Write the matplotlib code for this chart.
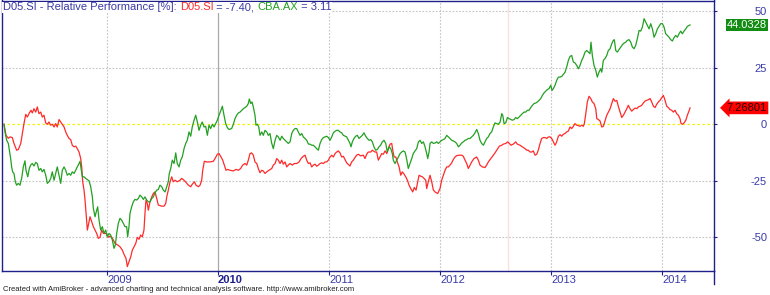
import matplotlib.pyplot as plt
from matplotlib.lines import Line2D
import matplotlib.transforms as mtransforms

plt.rcParams['font.family'] = ['Liberation Sans', 'DejaVu Sans']

# data (decimal years, relative performance in %)
years = [2009, 2010, 2011, 2012, 2013, 2014]
year_labels = [str(y) for y in years]
y_ticks = [-50, -25, 0, 25, 50]
marker_date = 2012.616

d05_t = [
    2008.072, 2008.090, 2008.111, 2008.126, 2008.147, 2008.162, 2008.186, 2008.201, 2008.223, 2008.237,
    2008.252, 2008.268, 2008.282, 2008.297, 2008.315, 2008.327, 2008.342, 2008.358, 2008.372, 2008.387,
    2008.403, 2008.417, 2008.432, 2008.448, 2008.462, 2008.477, 2008.493, 2008.507, 2008.523, 2008.538,
    2008.552, 2008.568, 2008.583, 2008.597, 2008.613, 2008.628, 2008.642, 2008.658, 2008.673, 2008.687,
    2008.703, 2008.718, 2008.732, 2008.748, 2008.763, 2008.772, 2008.781, 2008.793, 2008.802, 2008.811,
    2008.823, 2008.835, 2008.847, 2008.862, 2008.877, 2008.892, 2008.907, 2008.922, 2008.937, 2008.952,
    2008.967, 2008.991, 2009.012, 2009.027, 2009.042, 2009.057, 2009.072, 2009.096, 2009.117, 2009.138,
    2009.156, 2009.171, 2009.183, 2009.198, 2009.214, 2009.228, 2009.243, 2009.259, 2009.273, 2009.288,
    2009.303, 2009.318, 2009.333, 2009.342, 2009.351, 2009.363, 2009.372, 2009.387, 2009.403, 2009.417,
    2009.432, 2009.448, 2009.462, 2009.492, 2009.514, 2009.529, 2009.538, 2009.552, 2009.568, 2009.583,
    2009.597, 2009.613, 2009.633, 2009.658, 2009.673, 2009.694, 2009.718, 2009.733, 2009.754, 2009.768,
    2009.787, 2009.802, 2009.823, 2009.838, 2009.853, 2009.862, 2009.877, 2009.898, 2009.928, 2009.958,
    2009.973, 2009.994, 2010.009, 2010.027, 2010.042, 2010.057, 2010.072, 2010.087, 2010.108, 2010.138,
    2010.162, 2010.183, 2010.204, 2010.222, 2010.243, 2010.259, 2010.273, 2010.288, 2010.303, 2010.318,
    2010.333, 2010.349, 2010.363, 2010.378, 2010.394, 2010.408, 2010.423, 2010.439, 2010.459, 2010.484,
    2010.498, 2010.514, 2010.529, 2010.543, 2010.559, 2010.574, 2010.588, 2010.604, 2010.619, 2010.633,
    2010.649, 2010.669, 2010.687, 2010.709, 2010.730, 2010.748, 2010.768, 2010.784, 2010.799, 2010.814,
    2010.829, 2010.844, 2010.859, 2010.874, 2010.889, 2010.904, 2010.919, 2010.934, 2010.949, 2010.964,
    2010.979, 2010.994, 2011.009, 2011.024, 2011.039, 2011.054, 2011.069, 2011.084, 2011.099, 2011.114,
    2011.129, 2011.144, 2011.159, 2011.189, 2011.204, 2011.219, 2011.234, 2011.249, 2011.264, 2011.285,
    2011.309, 2011.324, 2011.339, 2011.354, 2011.376, 2011.390, 2011.414, 2011.429, 2011.444, 2011.459,
    2011.475, 2011.489, 2011.505, 2011.520, 2011.534, 2011.550, 2011.565, 2011.574, 2011.586, 2011.601,
    2011.615, 2011.631, 2011.646, 2011.660, 2011.676, 2011.691, 2011.706, 2011.721, 2011.736, 2011.754,
    2011.768, 2011.784, 2011.799, 2011.811, 2011.826, 2011.841, 2011.856, 2011.871, 2011.880, 2011.894,
    2011.910, 2011.925, 2011.940, 2011.955, 2011.979, 2012.000, 2012.015, 2012.030, 2012.045, 2012.060,
    2012.075, 2012.090, 2012.105, 2012.120, 2012.135, 2012.150, 2012.171, 2012.195, 2012.210, 2012.225,
    2012.240, 2012.255, 2012.270, 2012.285, 2012.306, 2012.330, 2012.345, 2012.360, 2012.381, 2012.405,
    2012.420, 2012.435, 2012.457, 2012.480, 2012.495, 2012.511, 2012.534, 2012.556, 2012.570, 2012.592,
    2012.610, 2012.624, 2012.640, 2012.660, 2012.682, 2012.696, 2012.721, 2012.741, 2012.766, 2012.781,
    2012.795, 2012.811, 2012.826, 2012.840, 2012.856, 2012.871, 2012.885, 2012.901, 2012.916, 2012.931,
    2012.946, 2012.961, 2012.976, 2012.991, 2013.006, 2013.021, 2013.036, 2013.051, 2013.066, 2013.081,
    2013.096, 2013.111, 2013.126, 2013.141, 2013.156, 2013.171, 2013.186, 2013.201, 2013.216, 2013.231,
    2013.246, 2013.261, 2013.276, 2013.291, 2013.300, 2013.313, 2013.327, 2013.342, 2013.358, 2013.372,
    2013.387, 2013.403, 2013.412, 2013.426, 2013.441, 2013.457, 2013.471, 2013.486, 2013.502, 2013.516,
    2013.532, 2013.547, 2013.561, 2013.577, 2013.592, 2013.606, 2013.622, 2013.637, 2013.652, 2013.667,
    2013.682, 2013.696, 2013.712, 2013.727, 2013.741, 2013.757, 2013.772, 2013.787, 2013.802, 2013.817,
    2013.831, 2013.847, 2013.862, 2013.877, 2013.892, 2013.907, 2013.922, 2013.937, 2013.952, 2013.967,
    2013.982, 2013.997, 2014.012, 2014.027, 2014.042, 2014.057, 2014.072, 2014.087, 2014.102, 2014.117,
    2014.132, 2014.147, 2014.162, 2014.171, 2014.183, 2014.198, 2014.214, 2014.228, 2014.243, 2014.252,
]
d05_v = [
    0.0, -4.9, -6.2, -5.6, -5.9, -8.5, -11.5, -11.2, -8.5, -4.1,
    0.3, 4.4, 3.2, 4.7, 6.2, 5.0, 6.9, 5.4, 7.7, 4.7,
    5.4, 3.2, 4.0, 0.6, 0.0, 1.0, -0.4, 0.0, -1.2, 0.3,
    -1.2, 2.1, 1.0, 0.0, -1.2, -3.4, -4.9, -6.3, -6.8, -9.3,
    -10.0, -9.7, -10.8, -12.3, -15.2, -18.9, -25.5, -29.2, -33.6, -39.5,
    -46.9, -43.9, -41.0, -43.2, -45.4, -46.9, -48.4, -50.6, -50.1, -46.9,
    -48.4, -48.4, -50.1, -49.6, -50.1, -51.3, -52.8, -53.5, -54.3, -55.8,
    -58.0, -59.4, -63.1, -60.9, -58.7, -55.8, -54.3, -52.8, -50.1, -51.0,
    -49.1, -49.9, -46.9, -39.5, -33.6, -35.1, -38.1, -34.4, -32.2, -30.7,
    -30.0, -32.9, -35.8, -36.3, -36.3, -35.1, -32.2, -29.2, -25.5, -23.3,
    -25.5, -24.8, -25.5, -24.8, -24.0, -24.8, -26.2, -27.0, -27.7, -26.6,
    -25.5, -27.0, -27.7, -27.0, -24.8, -20.4, -16.4, -16.7, -16.7, -16.4,
    -15.2, -13.3, -13.0, -14.5, -15.9, -18.1, -20.4, -20.0, -20.4, -20.7,
    -20.0, -20.4, -19.6, -18.1, -17.4, -18.1, -15.9, -13.0, -12.7, -13.7,
    -16.7, -17.4, -19.6, -21.5, -20.4, -20.7, -21.8, -21.1, -20.4, -19.6,
    -18.1, -17.4, -15.2, -15.9, -17.4, -15.9, -17.7, -16.7, -18.9, -18.1,
    -17.4, -18.1, -17.4, -17.4, -16.7, -15.2, -14.2, -13.7, -15.9, -17.4,
    -17.1, -18.9, -18.1, -17.7, -18.6, -18.1, -17.4, -17.1, -17.4, -16.7,
    -16.7, -15.9, -14.5, -13.7, -14.5, -13.0, -12.3, -11.8, -12.7, -14.5,
    -14.2, -15.6, -17.1, -18.5, -16.7, -15.9, -14.7, -13.7, -13.3, -14.0,
    -13.7, -15.2, -13.3, -12.3, -12.3, -11.5, -12.3, -12.3, -15.9, -14.5,
    -13.0, -13.3, -11.8, -13.0, -10.8, -8.8, -8.5, -11.5, -14.5, -14.5,
    -16.7, -18.9, -22.6, -21.1, -22.1, -23.3, -24.8, -27.0, -28.5, -30.0,
    -28.0, -29.2, -25.5, -22.6, -23.0, -23.3, -24.0, -24.8, -28.5, -25.5,
    -22.6, -25.5, -29.2, -30.0, -30.7, -28.5, -24.8, -22.6, -20.4, -18.9,
    -18.9, -18.1, -17.1, -15.6, -14.5, -13.9, -13.7, -13.7, -14.2, -15.9,
    -17.4, -19.6, -18.1, -16.7, -15.2, -14.5, -15.9, -18.1, -18.9, -19.2,
    -18.1, -16.7, -15.2, -13.7, -12.7, -11.5, -9.7, -9.3, -8.8, -8.5,
    -7.8, -8.5, -9.3, -8.8, -7.8, -8.8, -9.3, -10.0, -10.8, -11.5,
    -11.5, -12.3, -12.3, -11.8, -13.7, -13.3, -11.5, -8.5, -6.3, -5.9,
    -5.9, -6.3, -5.6, -5.6, -6.3, -7.8, -9.3, -7.8, -5.3, -4.6,
    -5.3, -4.4, -4.1, -3.4, -3.0, -1.2, -1.9, -0.9, 0.3, -0.4,
    -0.6, -0.9, -0.4, -0.9, 0.3, 4.7, 9.9, 12.4, 11.4, 9.9,
    9.2, 6.9, 2.5, 2.1, 1.5, -1.2, -0.9, 1.5, 4.0, 5.4,
    6.9, 9.2, 11.4, 10.2, 10.6, 8.0, 5.4, 3.0, 4.0, 5.4,
    6.9, 8.4, 6.9, 5.8, 6.5, 7.2, 6.9, 7.7, 8.0, 8.4,
    9.4, 10.3, 10.6, 10.9, 11.4, 9.9, 8.0, 7.4, 8.9, 9.9,
    10.6, 11.8, 12.8, 10.6, 8.0, 7.4, 6.5, 6.2, 5.4, 6.2,
    4.7, 4.0, 2.5, 0.3, 0.0, 0.6, 1.8, 4.0, 5.9, 7.27,
]

cba_t = [
    2008.072, 2008.081, 2008.096, 2008.111, 2008.120, 2008.132, 2008.141, 2008.150, 2008.162, 2008.174,
    2008.186, 2008.201, 2008.216, 2008.231, 2008.246, 2008.261, 2008.270, 2008.286, 2008.300, 2008.312,
    2008.327, 2008.342, 2008.358, 2008.372, 2008.387, 2008.403, 2008.417, 2008.432, 2008.448, 2008.462,
    2008.477, 2008.493, 2008.507, 2008.523, 2008.538, 2008.552, 2008.568, 2008.583, 2008.597, 2008.613,
    2008.628, 2008.642, 2008.658, 2008.673, 2008.687, 2008.703, 2008.718, 2008.732, 2008.748, 2008.757,
    2008.766, 2008.778, 2008.793, 2008.808, 2008.823, 2008.838, 2008.853, 2008.868, 2008.877, 2008.892,
    2008.907, 2008.916, 2008.928, 2008.943, 2008.958, 2008.973, 2008.988, 2009.003, 2009.018, 2009.033,
    2009.048, 2009.063, 2009.075, 2009.087, 2009.102, 2009.117, 2009.132, 2009.147, 2009.162, 2009.177,
    2009.186, 2009.198, 2009.207, 2009.222, 2009.237, 2009.252, 2009.268, 2009.282, 2009.297, 2009.313,
    2009.327, 2009.342, 2009.358, 2009.372, 2009.387, 2009.403, 2009.417, 2009.432, 2009.448, 2009.462,
    2009.477, 2009.493, 2009.507, 2009.523, 2009.538, 2009.552, 2009.561, 2009.574, 2009.588, 2009.604,
    2009.619, 2009.633, 2009.649, 2009.664, 2009.678, 2009.694, 2009.709, 2009.723, 2009.739, 2009.754,
    2009.768, 2009.784, 2009.799, 2009.814, 2009.829, 2009.844, 2009.858, 2009.874, 2009.889, 2009.904,
    2009.919, 2009.934, 2009.949, 2009.964, 2009.979, 2009.994, 2010.009, 2010.024, 2010.039, 2010.054,
    2010.069, 2010.084, 2010.099, 2010.123, 2010.138, 2010.153, 2010.168, 2010.183, 2010.198, 2010.214,
    2010.228, 2010.243, 2010.259, 2010.273, 2010.282, 2010.295, 2010.306, 2010.318, 2010.333, 2010.342,
    2010.354, 2010.367, 2010.378, 2010.394, 2010.408, 2010.423, 2010.439, 2010.453, 2010.468, 2010.484,
    2010.498, 2010.514, 2010.529, 2010.543, 2010.559, 2010.574, 2010.588, 2010.604, 2010.619, 2010.633,
    2010.649, 2010.664, 2010.678, 2010.694, 2010.709, 2010.723, 2010.739, 2010.754, 2010.768, 2010.784,
    2010.799, 2010.814, 2010.829, 2010.844, 2010.859, 2010.874, 2010.889, 2010.904, 2010.919, 2010.934,
    2010.949, 2010.964, 2010.979, 2010.994, 2011.009, 2011.024, 2011.039, 2011.054, 2011.069, 2011.084,
    2011.099, 2011.114, 2011.129, 2011.159, 2011.174, 2011.189, 2011.198, 2011.210, 2011.225, 2011.240,
    2011.255, 2011.270, 2011.285, 2011.300, 2011.315, 2011.330, 2011.345, 2011.360, 2011.376, 2011.390,
    2011.405, 2011.420, 2011.435, 2011.450, 2011.465, 2011.480, 2011.495, 2011.511, 2011.525, 2011.541,
    2011.556, 2011.570, 2011.579, 2011.595, 2011.610, 2011.624, 2011.640, 2011.655, 2011.669, 2011.685,
    2011.700, 2011.714, 2011.730, 2011.745, 2011.759, 2011.775, 2011.790, 2011.805, 2011.820, 2011.835,
    2011.850, 2011.865, 2011.880, 2011.889, 2011.901, 2011.910, 2011.925, 2011.940, 2011.955, 2011.970,
    2011.985, 2012.000, 2012.015, 2012.030, 2012.045, 2012.060, 2012.075, 2012.090, 2012.105, 2012.120,
    2012.135, 2012.150, 2012.165, 2012.180, 2012.195, 2012.210, 2012.225, 2012.240, 2012.255, 2012.270,
    2012.285, 2012.300, 2012.315, 2012.330, 2012.345, 2012.360, 2012.375, 2012.390, 2012.405, 2012.420,
    2012.435, 2012.450, 2012.465, 2012.480, 2012.495, 2012.511, 2012.525, 2012.541, 2012.556, 2012.565,
    2012.577, 2012.592, 2012.607, 2012.622, 2012.637, 2012.652, 2012.667, 2012.682, 2012.696, 2012.712,
    2012.727, 2012.741, 2012.757, 2012.772, 2012.787, 2012.802, 2012.817, 2012.832, 2012.847, 2012.862,
    2012.877, 2012.892, 2012.907, 2012.922, 2012.937, 2012.952, 2012.967, 2012.982, 2012.997, 2013.009,
    2013.021, 2013.036, 2013.051, 2013.066, 2013.081, 2013.096, 2013.111, 2013.126, 2013.141, 2013.156,
    2013.171, 2013.186, 2013.201, 2013.216, 2013.231, 2013.246, 2013.261, 2013.276, 2013.291, 2013.306,
    2013.321, 2013.336, 2013.351, 2013.360, 2013.372, 2013.387, 2013.403, 2013.417, 2013.432, 2013.448,
    2013.457, 2013.471, 2013.486, 2013.502, 2013.516, 2013.532, 2013.547, 2013.561, 2013.570, 2013.583,
    2013.597, 2013.613, 2013.628, 2013.643, 2013.658, 2013.673, 2013.687, 2013.703, 2013.718, 2013.733,
    2013.748, 2013.763, 2013.777, 2013.793, 2013.808, 2013.823, 2013.838, 2013.853, 2013.868, 2013.883,
    2013.898, 2013.913, 2013.928, 2013.943, 2013.958, 2013.973, 2013.988, 2014.003, 2014.018, 2014.033,
    2014.048, 2014.063, 2014.078, 2014.093, 2014.108, 2014.123, 2014.138, 2014.153, 2014.168, 2014.183,
    2014.198, 2014.214, 2014.228, 2014.243, 2014.252,
]
cba_v = [
    0.0, -3.4, -7.1, -8.5, -11.5, -15.2, -18.9, -21.1, -21.8, -25.5,
    -27.0, -26.2, -27.0, -24.0, -18.9, -16.2, -20.4, -23.3, -19.6, -18.1,
    -17.4, -18.5, -16.9, -17.4, -20.4, -19.6, -21.1, -20.0, -22.6, -26.2,
    -25.5, -24.0, -21.1, -24.8, -21.8, -18.9, -22.6, -26.2, -20.4, -18.9,
    -20.4, -22.6, -21.8, -22.6, -21.1, -21.8, -20.4, -18.9, -17.4, -16.4,
    -19.6, -23.3, -23.3, -24.0, -24.5, -25.1, -27.7, -32.2, -37.3, -41.0,
    -38.1, -36.6, -42.5, -46.9, -45.4, -48.4, -46.9, -49.9, -48.4, -49.1,
    -51.3, -55.0, -53.5, -48.4, -43.9, -41.7, -42.5, -43.9, -45.4, -45.4,
    -49.9, -45.4, -39.5, -36.6, -34.4, -33.3, -33.6, -32.9, -31.4, -32.2,
    -33.3, -32.2, -33.6, -34.4, -34.4, -32.9, -32.2, -30.4, -29.2, -28.9,
    -27.0, -27.7, -29.2, -30.0, -27.7, -25.5, -21.8, -19.6, -15.9, -17.4,
    -12.7, -17.4, -18.9, -15.9, -14.5, -10.8, -8.5, -7.1, -3.4, -5.3,
    -1.2, 1.8, 4.0, 1.0, -2.7, -0.4, 1.0, -1.2, -0.9, -4.9,
    -0.4, -1.9, 0.0, -1.2, 0.3, 1.8, 4.0, 5.9, 8.0, 4.0,
    0.3, -1.5, -2.3, -1.9, 0.0, 2.5, 4.0, 5.0, 5.4, 6.2,
    6.9, 7.4, 8.0, 9.2, 11.2, 9.2, 9.9, 7.7, 4.0, -0.4,
    0.0, -1.2, -4.9, -3.4, -4.9, -2.7, -3.4, -4.9, -4.1, -8.5,
    -10.8, -7.1, -4.9, -5.6, -7.1, -5.3, -6.3, -7.1, -7.8, -8.5,
    -7.8, -4.1, -2.7, -1.9, -1.9, -3.4, -4.9, -4.1, -5.6, -6.3,
    -7.1, -8.8, -8.8, -9.3, -9.3, -10.0, -10.8, -11.5, -8.5, -6.8,
    -5.9, -5.6, -5.3, -5.9, -7.1, -5.6, -3.8, -3.1, -2.7, -2.7,
    -3.4, -3.8, -4.9, -5.6, -7.1, -8.5, -10.0, -7.8, -6.3, -5.3,
    -4.9, -6.3, -5.6, -4.9, -3.8, -5.3, -6.3, -7.1, -6.8, -7.8,
    -10.0, -11.5, -11.2, -10.0, -9.3, -7.8, -7.1, -8.5, -12.3, -10.0,
    -10.8, -13.0, -15.9, -17.4, -15.9, -14.5, -13.0, -12.3, -11.8, -12.3,
    -15.6, -19.6, -17.4, -15.2, -13.0, -11.8, -10.8, -7.8, -7.1, -8.5,
    -7.8, -10.0, -13.0, -15.2, -12.3, -8.5, -7.8, -8.5, -8.3, -7.8,
    -8.5, -7.8, -7.1, -6.8, -6.3, -4.9, -5.6, -6.3, -7.1, -7.4,
    -7.8, -8.5, -10.0, -9.3, -8.3, -7.8, -7.1, -6.8, -6.3, -6.3,
    -5.6, -4.9, -3.8, -2.3, -4.1, -7.1, -8.5, -9.3, -7.8, -6.3,
    -5.6, -4.1, -3.4, -1.2, 0.6, 0.3, 0.0, 1.0, 4.7, 4.0,
    0.3, 0.6, 3.0, 2.5, 2.1, 1.8, 2.1, 3.0, 2.5, 3.2,
    4.0, 4.7, 5.4, 5.4, 6.2, 6.2, 7.4, 8.4, 9.2, 9.4,
    9.9, 10.6, 11.4, 12.8, 13.9, 14.7, 15.4, 15.8, 17.3, 15.0,
    15.8, 17.3, 19.5, 20.9, 20.9, 21.2, 22.1, 23.1, 25.4, 28.3,
    30.1, 30.5, 27.6, 27.2, 26.1, 24.6, 26.1, 28.3, 29.8, 32.0,
    32.7, 32.0, 31.3, 36.4, 30.5, 26.1, 23.9, 20.9, 23.1, 24.6,
    23.1, 28.3, 29.1, 30.5, 32.7, 33.5, 35.7, 37.2, 37.5, 32.7,
    32.0, 33.1, 34.2, 35.3, 36.0, 36.4, 37.2, 37.5, 36.4, 34.2,
    33.5, 35.0, 37.9, 41.6, 41.3, 43.1, 46.8, 45.3, 43.8, 42.3,
    44.6, 42.3, 38.6, 40.1, 42.3, 43.4, 44.6, 44.6, 43.1, 40.1,
    39.4, 38.6, 37.5, 36.9, 38.4, 39.4, 38.6, 40.1, 41.3, 40.1,
    41.3, 42.3, 43.4, 43.8, 44.03,
]

last_d05 = 7.26801
last_cba = 44.0328

BLUE = '#3a3aa8'
NAVY = '#20208c'
RED = '#ff2a2a'
GREEN = '#22a022'

title_parts = [
    ("D05.SI - Relative Performance [%]: ", BLUE),
    ("D05.SI", RED),
    (" = -7.40, ", BLUE),
    ("CBA.AX", GREEN),
    (" = 3.11", BLUE),
]
footer = ("Created with AmiBroker - advanced charting and technical analysis "
          "software. http://www.amibroker.com")

W, H = 770, 295
fig = plt.figure(figsize=(W / 100, H / 100), dpi=100)
fig.patch.set_facecolor('white')
ax = fig.add_axes([2 / W, 24 / H, 712 / W, 270.5 / H])

ax.set_xlim(2008.054, 2014.468)
ax.set_ylim(-65.05, 54.87)

# grid
for yv in y_ticks:
    if yv == 0:
        ax.axhline(0, color='#f2f200', lw=0.9, ls=(0, (2, 2)), zorder=1)
    else:
        ax.axhline(yv, color='#c4c4c4', lw=0.8, ls=(0, (1.5, 1.5)), zorder=1)
for yr in years:
    if yr == 2010:
        ax.axvline(yr, color='#a8a8a8', lw=0.9, zorder=1)
    else:
        ax.axvline(yr, color='#c4c4c4', lw=0.8, ls=(0, (1.5, 1.5)), zorder=1)
ax.axvline(marker_date, color='#ffdede', lw=1.0, zorder=1)

ax.plot(d05_t, d05_v, color=RED, lw=0.9, zorder=3)
ax.plot(cba_t, cba_v, color=GREEN, lw=0.9, zorder=3)

# frame
for sp in ax.spines.values():
    sp.set_color(NAVY)
    sp.set_linewidth(1.0)
fig.add_artist(Line2D([714 / W, 714 / W], [24 / H, 11 / H], color=NAVY, lw=1.0))

# y axis on the right
ax.yaxis.tick_right()
ax.set_yticks(y_ticks)
ax.set_yticklabels([str(v) for v in y_ticks])
ax.tick_params(axis='y', direction='out', length=2.2, width=0.8, color=NAVY,
               pad=36, labelsize=8, labelcolor=BLUE)
for lbl in ax.get_yticklabels():
    lbl.set_horizontalalignment('right')

# x axis
ax.set_xticks(years)
ax.set_xticklabels(year_labels)
ax.tick_params(axis='x', direction='out', length=3, width=0.8, color=NAVY,
               pad=0, labelsize=8, labelcolor=BLUE)
for lbl in ax.get_xticklabels():
    lbl.set_horizontalalignment('left')
    if lbl.get_text() == '2010':
        lbl.set_fontweight('bold')
        lbl.set_color(NAVY)

# last value boxes
trans = mtransforms.blended_transform_factory(ax.transAxes, ax.transData)
ax.text(1.0744, last_cba, f"{last_cba:g}", transform=trans, ha='right', va='center',
        fontsize=8, color='white', clip_on=False, zorder=5,
        bbox=dict(boxstyle='square,pad=0.12', facecolor='#128c12', edgecolor='none'))
ax.text(1.0744, last_d05, f"{last_d05:g}", transform=trans, ha='right', va='center',
        fontsize=8, color='#2a0000', clip_on=False, zorder=5,
        bbox=dict(boxstyle='larrow,pad=0.12', facecolor='#ff0000', edgecolor='none'))

# multi-coloured title
prev = None
for txt, col in title_parts:
    if prev is None:
        prev = fig.text(3 / W, 282.5 / H, txt, color=col, fontsize=8, ha='left', va='bottom',
                        bbox=dict(facecolor='white', edgecolor='none', pad=0.6))
    else:
        prev = ax.annotate(txt, xy=(1, 0), xycoords=prev, ha='left', va='bottom',
                           color=col, fontsize=8, annotation_clip=False,
                           bbox=dict(facecolor='white', edgecolor='none', pad=0.6))

fig.text(3 / W, 5.5 / H, footer, fontsize=5.5, color='#202020', ha='left', va='center')

fig.savefig('out.png', dpi=100, facecolor='white')
